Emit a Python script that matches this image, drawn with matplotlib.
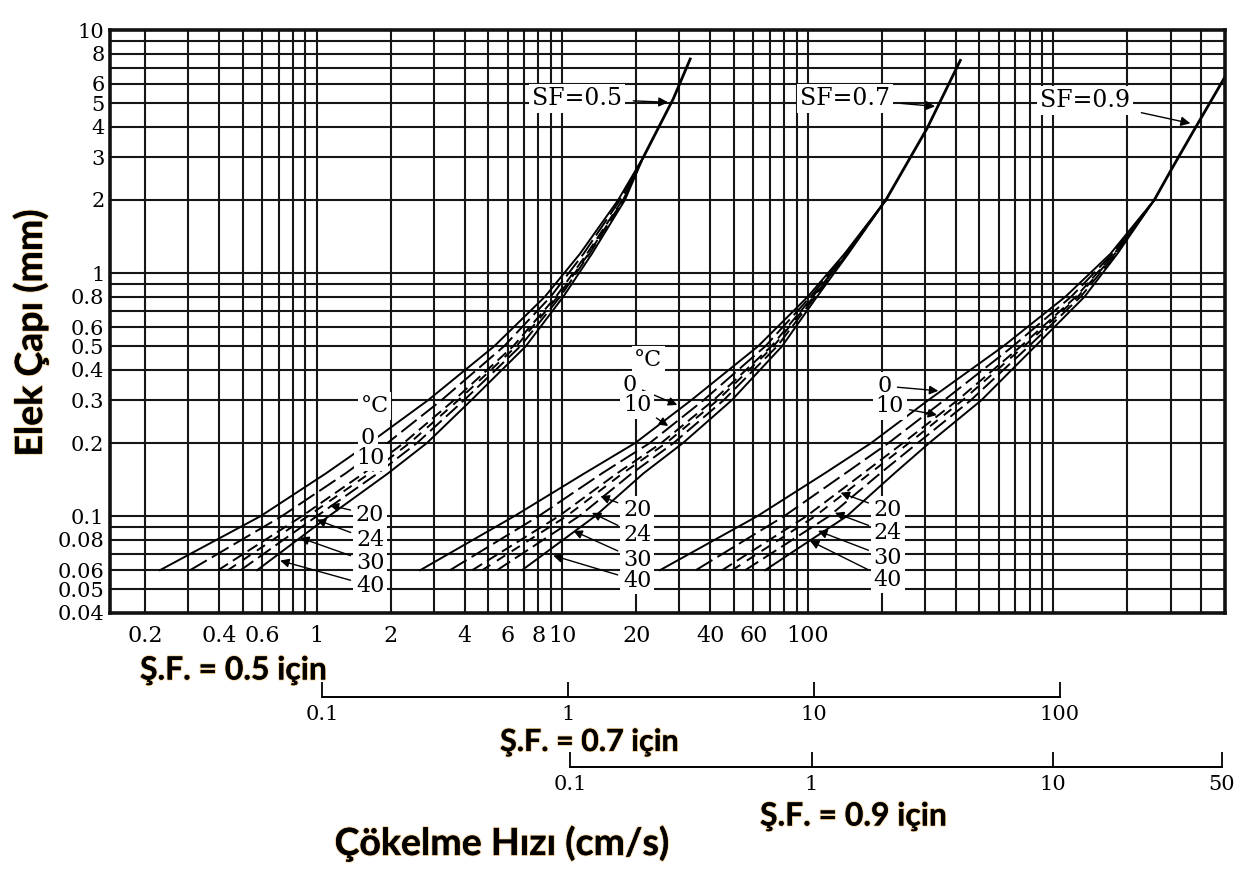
import matplotlib
matplotlib.use("Agg")
import matplotlib.pyplot as plt
from matplotlib import patheffects
from matplotlib.ticker import NullLocator

# --- data (velocities in main-axis units, cm/s) ---
temps = [0, 10, 20, 24, 30, 40]

sf05_d = [0.06, 0.1, 0.15, 0.2, 0.3, 0.5, 0.8, 1.2, 2.0, 3.0]
sf05_v = {
    0: [0.23, 0.59, 1.09, 1.64, 2.84, 5.28, 8.5, 11.8, 16.9, 21.4],
    10: [0.305, 0.72, 1.31, 1.94, 3.22, 5.79, 8.97, 12.2, 17.2, 21.4],
    20: [0.397, 0.87, 1.55, 2.26, 3.62, 6.31, 9.43, 12.6, 17.6, 21.4],
    24: [0.435, 0.92, 1.64, 2.39, 3.77, 6.50, 9.59, 12.8, 17.7, 21.4],
    30: [0.49, 1.0, 1.77, 2.56, 3.98, 6.75, 9.81, 12.9, 17.8, 21.4],
    40: [0.572, 1.12, 1.95, 2.81, 4.26, 7.1, 10.1, 13.2, 18.0, 21.4],
}
sf05_top_d = [3.0, 5.2, 7.6]
sf05_top_v = [21.4, 28.3, 33.2]

sf07_d = [0.06, 0.1, 0.15, 0.2, 0.3, 0.5, 0.8, 1.2, 2.0]
sf07_v = {
    0: [2.64, 6.37, 12.3, 19.8, 33.5, 62.7, 100, 141, 208],
    10: [3.49, 8.0, 14.5, 22.7, 37.6, 67.1, 102.6, 142.5, 208],
    20: [4.30, 9.67, 16.7, 25.3, 41.3, 71.0, 104.8, 143.7, 208],
    24: [4.72, 10.4, 17.6, 26.5, 42.9, 72.5, 105.7, 144.2, 208],
    30: [5.43, 11.7, 19.2, 28.4, 45.4, 75.0, 107.1, 145.0, 208],
    40: [6.86, 13.6, 21.4, 31.0, 49.0, 78.5, 109, 146, 208],
}
sf07_top_d = [2.0, 3.94, 7.5]
sf07_top_v = [208, 306, 418]

sf09_d = [0.06, 0.1, 0.15, 0.2, 0.3, 0.5, 0.8, 1.2, 2.0]
sf09_v = {
    0: [25.0, 62.2, 117, 181, 309, 625, 1120, 1706, 2577],
    10: [35.0, 80.0, 142, 213, 359, 684, 1182, 1740, 2577],
    20: [44.8, 98.7, 168, 244, 407, 737, 1237, 1768, 2577],
    24: [49.2, 107, 179, 258, 427, 759, 1259, 1779, 2577],
    30: [55.6, 122, 197, 280, 461, 794, 1292, 1798, 2577],
    40: [67.0, 144, 225, 312, 509, 843, 1340, 1821, 2577],
}
sf09_top_d = [2.0, 2.62, 3.83, 6.44]
sf09_top_v = [2577, 2993, 3715, 5010]

x_tick_vals = [0.2, 0.4, 0.6, 1, 2, 4, 6, 8, 10, 20, 40, 60, 100]
x_tick_labels = ["0.2", "0.4", "0.6", "1", "2", "4", "6", "8", "10", "20", "40", "60", "100"]
y_tick_vals = [10, 8, 6, 5, 4, 3, 2, 1, 0.8, 0.6, 0.5, 0.4, 0.3, 0.2,
               0.1, 0.08, 0.06, 0.05, 0.04]
y_tick_labels = ["10", "8", "6", "5", "4", "3", "2", "1", "0.8", "0.6", "0.5", "0.4",
                 "0.3", "0.2", "0.1", "0.08", "0.06", "0.05", "0.04"]

sf07_scale_ticks = [0.1, 1, 10, 100]
sf07_scale_labels = ["0.1", "1", "10", "100"]
sf09_scale_ticks = [0.1, 1, 10, 50]
sf09_scale_labels = ["0.1", "1", "10", "50"]

# --- layout ---
W, H = 1256, 872
SERIF = ["DejaVu Serif"]
BOLD = ["Lato", "DejaVu Sans"]

fig = plt.figure(figsize=(W / 100, H / 100), dpi=100)
fig.patch.set_facecolor("white")


def px_rect(x0, y0, x1, y1):
    return [x0 / W, 1 - y1 / H, (x1 - x0) / W, (y1 - y0) / H]


ax = fig.add_axes(px_rect(110, 30, 1225, 613))
ax.set_xscale("log")
ax.set_yscale("log")
ax.set_xlim(0.144, 5000)
ax.set_ylim(0.04, 10)

grid_kw = dict(color="#161616", lw=1.5, zorder=1)
for k in range(-1, 4):
    for m in range(1, 10):
        xv = m * 10.0 ** k
        if 0.15 < xv < 4990:
            ax.axvline(xv, **grid_kw)
for k in range(-2, 1):
    for m in range(1, 10):
        yv = m * 10.0 ** k
        if 0.045 < yv < 9.95:
            ax.axhline(yv, **grid_kw)

for s in ax.spines.values():
    s.set_linewidth(2.6)
    s.set_color("#111111")
    s.set_zorder(6)

ax.set_xticks(x_tick_vals)
ax.set_xticklabels(x_tick_labels)
ax.set_yticks(y_tick_vals)
ax.set_yticklabels(y_tick_labels)
ax.xaxis.set_minor_locator(NullLocator())
ax.yaxis.set_minor_locator(NullLocator())
ax.tick_params(axis="x", length=0, pad=9, labelsize=16)
ax.tick_params(axis="y", length=0, pad=4, labelsize=15)
for lab in ax.get_xticklabels() + ax.get_yticklabels():
    lab.set_family(SERIF)

styles = {0: "-", 10: (0, (10, 3)), 20: (0, (6, 3)), 24: (0, (5, 4)),
          30: (0, (8, 3)), 40: "-"}

families = [
    (sf05_d, sf05_v, sf05_top_d, sf05_top_v),
    (sf07_d, sf07_v, sf07_top_d, sf07_top_v),
    (sf09_d, sf09_v, sf09_top_d, sf09_top_v),
]
for d, vs, top_d, top_v in families:
    for t in temps:
        ax.plot(vs[t], d, color="black", lw=1.4, linestyle=styles[t], zorder=3)
    ax.plot(top_v, top_d, color="black", lw=2.0, zorder=3)

box = dict(boxstyle="square,pad=0.12", fc="white", ec="none")
lab_kw = dict(fontsize=16, family=SERIF, ha="center", va="center", zorder=5, bbox=box)
arrow_kw = dict(arrowstyle="-|>", color="black", lw=1.0, mutation_scale=13,
                shrinkA=2, shrinkB=0)


def tag(text, pos, tip=None):
    if tip is None:
        ax.text(pos[0], pos[1], text, **lab_kw)
    else:
        ax.annotate(text, xy=tip, xytext=pos, arrowprops=arrow_kw,
                    annotation_clip=False, **lab_kw)


# SF = 0.5
tag("°C", (1.72, 0.284))
tag("0", (1.62, 0.21))
tag("10", (1.66, 0.174))
tag("20", (1.65, 0.1016), (1.13, 0.111))
tag("24", (1.65, 0.080), (1.0, 0.0968))
tag("30", (1.65, 0.0645), (0.856, 0.0816))
tag("40", (1.65, 0.0518), (0.71, 0.0657))
# SF = 0.7
tag("°C", (22.4, 0.439))
tag("0", (18.9, 0.347), (29.4, 0.287))
tag("10", (20.2, 0.287), (27.0, 0.235))
tag("20", (20.2, 0.106), (14.3, 0.121))
tag("24", (20.2, 0.0839), (13.2, 0.1033))
tag("30", (20.2, 0.0663), (11.1, 0.0871))
tag("40", (20.2, 0.0543), (9.19, 0.0689))
# SF = 0.9
tag("0", (206, 0.343), (340, 0.328))
tag("10", (216, 0.284), (336, 0.261))
tag("20", (212, 0.106), (136, 0.125))
tag("24", (212, 0.0856), (129, 0.1033))
tag("30", (212, 0.0675), (110, 0.0871))
tag("40", (212, 0.0549), (102, 0.0793))

sf_kw = dict(fontsize=17, family=SERIF, ha="center", va="center", zorder=5, bbox=box)
sf_arrow = dict(arrowstyle="-|>", color="black", lw=1.0, mutation_scale=14,
                shrinkA=6, shrinkB=0)
ax.annotate("SF=0.5", xy=(27.0, 5.04), xytext=(11.5, 5.23), arrowprops=sf_arrow, **sf_kw)
ax.annotate("SF=0.7", xy=(330, 4.85), xytext=(142, 5.23), arrowprops=sf_arrow, **sf_kw)
ax.annotate("SF=0.9", xy=(3614, 4.13), xytext=(1349, 5.13), arrowprops=sf_arrow, **sf_kw)


def scale_axis(x0, x1, y, lim, ticks, labels):
    a = fig.add_axes([x0 / W, 1 - y / H, (x1 - x0) / W, 0.0001])
    a.set_xscale("log")
    a.set_xlim(*lim)
    a.patch.set_visible(False)
    for s in ("top", "left", "right"):
        a.spines[s].set_visible(False)
    a.spines["bottom"].set_linewidth(1.4)
    a.set_yticks([])
    a.set_xticks(ticks)
    a.set_xticklabels(labels)
    a.xaxis.set_minor_locator(NullLocator())
    a.tick_params(axis="x", direction="in", length=11, width=1.3, pad=6, labelsize=15)
    for lab in a.get_xticklabels():
        lab.set_family(SERIF)
    return a


scale_axis(322, 1060, 697, (0.1, 100), sf07_scale_ticks, sf07_scale_labels)
scale_axis(570, 1222, 767, (0.1, 50), sf09_scale_ticks, sf09_scale_labels)

glow = [patheffects.withStroke(linewidth=1.4, foreground="#f6cf94"), patheffects.Normal()]
title_kw = dict(fontweight="bold", family=BOLD, va="center", path_effects=glow)
fig.text(140 / W, 1 - 670 / H, "Ş.F. = 0.5 için", fontsize=23, ha="left", **title_kw)
fig.text(500 / W, 1 - 742 / H, "Ş.F. = 0.7 için", fontsize=22, ha="left", **title_kw)
fig.text(760 / W, 1 - 816 / H, "Ş.F. = 0.9 için", fontsize=23, ha="left", **title_kw)
fig.text(502 / W, 1 - 843 / H, "Çökelme Hızı (cm/s)", fontsize=27, ha="center", **title_kw)
fig.text(30 / W, 1 - 333 / H, "Elek Çapı (mm)", fontsize=27, ha="center",
         rotation=90, **title_kw)

fig.savefig("out.png", dpi=100, facecolor="white")
